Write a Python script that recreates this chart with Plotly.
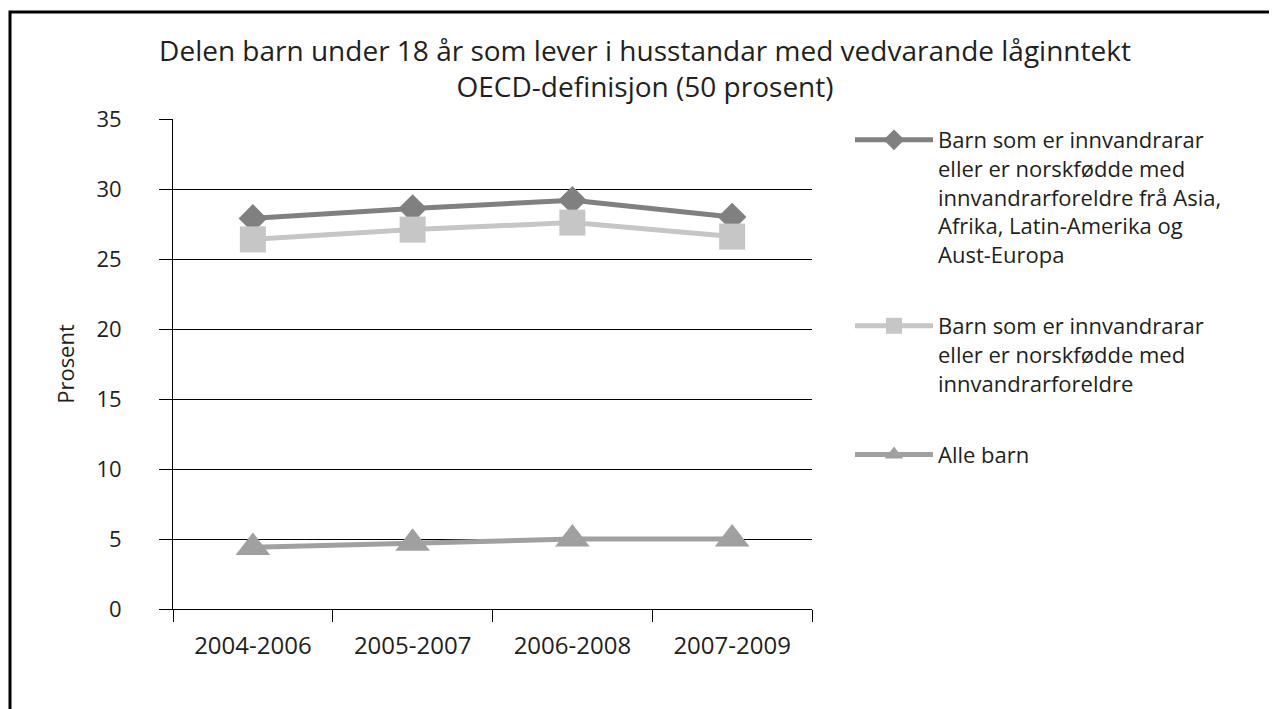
import plotly.graph_objects as go

categories = ["2004-2006", "2005-2007", "2006-2008", "2007-2009"]
asia_afrika = [27.9, 28.6, 29.2, 28.0]
innvandrar = [26.4, 27.1, 27.6, 26.6]
alle_barn = [4.4, 4.7, 5.0, 5.0]

names = [
    "Barn som er innvandrarar<br>eller er norskfødde med<br>innvandrarforeldre frå Asia,<br>Afrika, Latin-Amerika og<br>Aust-Europa",
    "Barn som er innvandrarar<br>eller er norskfødde med<br>innvandrarforeldre",
    "Alle barn",
]
title_text = ("Delen barn under 18 år som lever i husstandar med vedvarande låginntekt"
              "<br>OECD-definisjon (50 prosent)")
y_title = "Prosent"

FONT = "Open Sans"
TXT = "#231f20"

fig = go.Figure()
fig.add_trace(go.Scatter(
    x=categories, y=asia_afrika, name=names[0], mode="lines+markers",
    line=dict(color="#808080", width=5),
    marker=dict(symbol="diamond", size=22, color="#808080"),
    legendgroup="a",
))
fig.add_trace(go.Scatter(
    x=categories, y=innvandrar, name=names[1], mode="lines+markers",
    line=dict(color="#c6c6c6", width=5),
    marker=dict(symbol="square", size=26, color="#c6c6c6"),
    legendgroup="b",
))
fig.add_trace(go.Scatter(
    x=categories, y=alle_barn, name=names[2], mode="lines+markers",
    line=dict(color="#a0a0a0", width=5),
    marker=dict(symbol="triangle-up", size=30, color="#a0a0a0"),
    legendgroup="c",
))

# page body has an 8px margin, so figure coords = reference coords - 8
OFF = 8
W, H = 1277 - OFF, 709 - OFF
L, R, T, B = 173 - OFF, 812 - OFF, 119 - OFF, 609 - OFF


def px(xr):
    return (xr - OFF - L) / (R - L)


def py(yr):
    return (B - (yr - OFF)) / (B - T)


fig.update_layout(
    width=W, height=H,
    margin=dict(l=L, r=W - R, t=T, b=H - B, autoexpand=False),
    paper_bgcolor="white", plot_bgcolor="white",
    font=dict(family=FONT, size=22, color=TXT),
    title=dict(text=title_text, x=(645 - OFF) / W, xanchor="center",
               y=1 - (61 - OFF) / H, yanchor="middle",
               font=dict(family=FONT, size=28, color=TXT)),
    showlegend=True,
    legend=dict(
        x=px(850), y=py(119),
        xanchor="left", yanchor="top",
        valign="top", itemwidth=78,
        tracegroupgap=40,
        font=dict(family=FONT, size=22, color=TXT),
        bgcolor="rgba(0,0,0,0)",
    ),
    xaxis=dict(
        type="category", range=[-0.5, 3.5],
        showline=True, linecolor="black", linewidth=1,
        ticks="outside", tickson="boundaries", ticklen=12,
        tickcolor="black", tickwidth=1,
        showgrid=False, zeroline=False,
        tickfont=dict(family=FONT, size=24, color=TXT),
        ticklabelstandoff=15,
    ),
    yaxis=dict(
        range=[0, 35], dtick=5, tick0=0,
        showline=True, linecolor="black", linewidth=1,
        ticks="outside", ticklen=13, tickcolor="black", tickwidth=1,
        showgrid=True, gridcolor="black", gridwidth=1,
        zeroline=False,
        tickfont=dict(family=FONT, size=22, color=TXT),
        ticklabelstandoff=33,
        title=dict(text=y_title, standoff=15,
                   font=dict(family=FONT, size=22, color=TXT)),
    ),
    shapes=[dict(
        type="rect", xref="paper", yref="paper",
        x0=px(10), x1=3.0,
        y0=-1.0, y1=py(12),
        line=dict(color="black", width=3),
        fillcolor="rgba(0,0,0,0)", layer="above",
    )],
)

fig.write_html("out.html")
